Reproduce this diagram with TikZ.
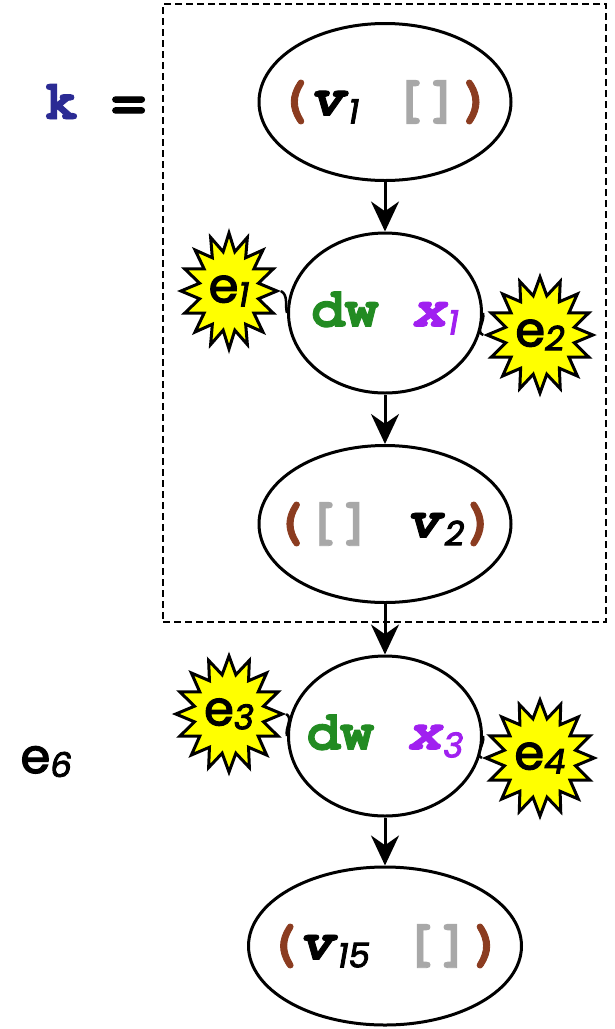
\documentclass[tikz,border=0pt]{standalone}
\usepackage{fontspec}
\usetikzlibrary{positioning,arrows.meta,shapes.geometric,shapes.symbols,fit,backgrounds}
\newfontfamily\cod{TeX Gyre Cursor}[FakeBold=1.6]
\newfontfamily\efont{Poppins}[FakeBold=2.6]
\definecolor{marron}{HTML}{8B3C20}
\definecolor{gris}{HTML}{A8A8A8}
\definecolor{verde}{HTML}{228B22}
\definecolor{morado}{HTML}{A020F0}
\definecolor{azul}{HTML}{2B2B94}
\definecolor{amarillo}{HTML}{FFFF00}
\newcommand{\lo}[2][8pt]{\raisebox{-#1}{\efont\mdseries\itshape\fontsize{34}{34}\selectfont #2}}
\newcommand{\pa}[1]{\textcolor{marron}{#1}}
\newcommand{\vac}{\textcolor{gris}{[]}}
\newcommand{\var}[2]{\textit{#1}\lo{#2}}
\newcommand{\ev}[1]{{\efont\mdseries\fontsize{48}{48}\selectfont e\lo[4pt]{#1}}}

\begin{document}
\begin{tikzpicture}[x=1pt, y=-1pt, >={Stealth[length=30pt,width=28pt]},
      every node/.style={font=\cod\bfseries\fontsize{56}{60}\selectfont},
      lista/.style={draw, ellipse, line width=3pt, minimum width=252pt, minimum height=157pt,
                    inner xsep=-40pt, inner ysep=0pt},
      paso/.style={lista, minimum width=193pt, minimum height=160pt},
      burst/.style={draw, starburst, starburst points=16, starburst point height=18pt,
                    fill=amarillo, line width=3pt, minimum width=96pt, minimum height=116pt,
                    inner sep=0pt, random starburst=0},
      liga/.style={line width=2.5pt},
      flecha/.style={->, line width=3pt}]
    \useasboundingbox (0,0) rectangle (614,1029);
    % cadena
    \node[lista] (v1) at (385,102) {\pa{(}\var{v}{1} \vac\pa{)}};
    \node[paso] (x1) at (385,313) {\textcolor{verde}{dw} \textcolor{morado}{\var{x}{1}}};
    \node[lista] (v2) at (385,524) {\pa{(}\vac{} \var{v}{2}\pa{)}};
    \node[paso] (x3) at (385,736) {\textcolor{verde}{dw} \textcolor{morado}{\var{x}{3}}};
    \node[lista, minimum width=273pt, minimum height=158pt] (v15) at (385,946) {\pa{(}\var{v}{15} \vac\pa{)}};
    % efectos
    \node[burst] (e1) at (229,291) {\ev{1}};
    \node[burst] (e2) at (540,335) {\ev{2}};
    \node[burst] (e3) at (229,714) {\ev{3}};
    \node[burst] (e4) at (540,758) {\ev{4}};
    \node[anchor=base west] (e6) at (17,773) {\ev{6}};
    \node[anchor=base] (k) at (95,119) {\textcolor{azul}{k} =};
    \begin{scope}[on background layer]
      \node[draw, dashed, dash pattern=on 7pt off 4pt, line width=2.5pt,
            fit=(v1)(v2)(e1.center)(e2.center), inner xsep=66pt, inner ysep=18pt] (kbox) {};
    \end{scope}
    \draw[flecha] (v1) -- (x1); \draw[flecha] (x1) -- (v2); \draw[flecha] (v2) -- (x3);
    \draw[flecha] (x3) -- (v15);
    \draw[liga] (e1.east) to[out=-30, in=105] (x1.west);
    \draw[liga] (x1.east) to[out=-75, in=160] (e2.west);
    \draw[liga] (e3.east) to[out=-30, in=105] (x3.west);
    \draw[liga] (x3.east) to[out=-75, in=160] (e4.west);
  \end{tikzpicture}
\end{document}
